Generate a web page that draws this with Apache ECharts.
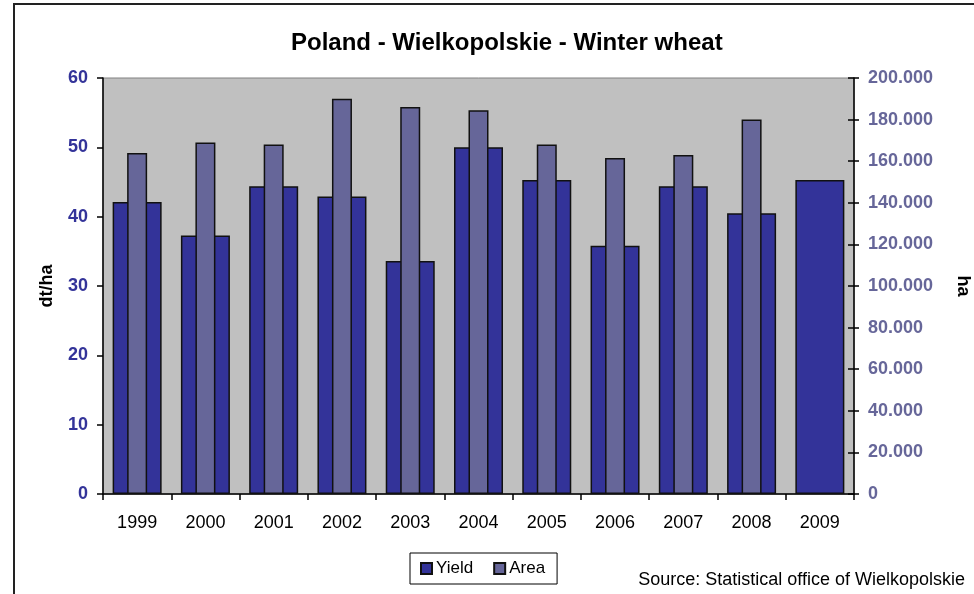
<!DOCTYPE html>
<html>
<head>
<meta charset="utf-8">
<script src="https://cdn.jsdelivr.net/npm/echarts@6/dist/echarts.min.js"></script>
<style>
  html, body { margin: 0; padding: 0; background: #fff; }
  #chart { width: 974px; height: 594px; }
</style>
</head>
<body>
<div id="chart"></div>
<script>
// Winter wheat in Wielkopolskie: yield (dt/ha) and cultivated area (ha) per year
const years = ['1999', '2000', '2001', '2002', '2003', '2004', '2005', '2006', '2007', '2008', '2009'];
const yieldValues = [42.1, 37.3, 44.4, 42.9, 33.6, 50.0, 45.3, 35.8, 44.4, 40.5, 45.3];
const areaValues = [164000, 169000, 168000, 190000, 186000, 184500, 168000, 161500, 163000, 180000, null];
const yieldTicks = { min: 0, max: 60, interval: 10 };
const areaTicks = { min: 0, max: 200000, interval: 20000 };

// 200000 -> "200.000"
function dotThousands(v) {
  return String(Math.round(v)).replace(/\B(?=(\d{3})+(?!\d))/g, '.');
}

const FONT = '"Liberation Sans", Arial, sans-serif';
const chart = echarts.init(document.getElementById('chart'), null, { renderer: 'canvas' });

chart.setOption({
  animation: false,
  backgroundColor: '#fff',
  textStyle: { fontFamily: FONT },
  title: {
    text: 'Poland - Wielkopolskie - Winter wheat',
    left: 286,
    top: 26,
    textStyle: { fontFamily: FONT, fontSize: 24, fontWeight: 'bold', color: '#000' }
  },
  graphic: [
    {
      type: 'rect',
      shape: { x: 14, y: 4, width: 980, height: 620 },
      style: { fill: 'none', stroke: '#222', lineWidth: 2 },
      silent: true
    },
    {
      type: 'text',
      right: 9,
      top: 571,
      style: { text: 'Source: Statistical office of Wielkopolskie', font: '18px ' + FONT, fill: '#000' }
    }
  ],
  legend: {
    left: 410,
    top: 553,
    padding: [7, 12, 7, 10],
    itemGap: 20,
    itemWidth: 11,
    itemHeight: 11,
    icon: 'rect',
    borderColor: '#000',
    borderWidth: 1,
    textStyle: { fontFamily: FONT, fontSize: 17, color: '#000', padding: [0, 0, 0, -1] },
    data: ['Yield', 'Area']
  },
  grid: {
    left: 103,
    right: 120,
    top: 78,
    bottom: 100,
    outerBoundsMode: 'none',
    containLabel: false,
    show: true,
    backgroundColor: '#c0c0c0',
    borderColor: '#808080',
    borderWidth: 1
  },
  xAxis: [
    {
      type: 'category',
      data: years,
      position: 'bottom',
      axisLine: { lineStyle: { color: '#000', width: 1.5 } },
      axisTick: { show: true, length: 6, lineStyle: { color: '#000', width: 1.5 } },
      axisLabel: { margin: 20, fontFamily: FONT, fontSize: 18, color: '#000' },
      splitLine: { show: false }
    },
    {
      type: 'category',
      data: years,
      position: 'bottom',
      show: false
    }
  ],
  yAxis: [
    {
      type: 'value',
      min: yieldTicks.min,
      max: yieldTicks.max,
      interval: yieldTicks.interval,
      position: 'left',
      name: 'dt/ha',
      nameLocation: 'middle',
      nameGap: 47,
      nameTextStyle: { fontFamily: FONT, fontSize: 18, fontWeight: 'bold', color: '#000' },
      axisLine: { show: true, lineStyle: { color: '#000', width: 1.5 } },
      axisTick: { show: true, length: 6, lineStyle: { color: '#000', width: 1.5 } },
      axisLabel: { margin: 15, fontFamily: FONT, fontSize: 18, fontWeight: 'bold', color: '#333399' },
      splitLine: { show: false }
    },
    {
      type: 'value',
      min: areaTicks.min,
      max: areaTicks.max,
      interval: areaTicks.interval,
      position: 'right',
      name: 'ha',
      nameLocation: 'middle',
      nameRotate: -90,
      nameGap: 100,
      nameTextStyle: { fontFamily: FONT, fontSize: 18, fontWeight: 'bold', color: '#000' },
      axisLine: { show: true, lineStyle: { color: '#000', width: 1.5 } },
      axisTick: { show: true, length: 5, lineStyle: { color: '#000', width: 1.5 } },
      axisLabel: { margin: 14, fontFamily: FONT, fontSize: 18, fontWeight: 'bold', color: '#666699', formatter: dotThousands },
      splitLine: { show: false }
    },
    {
      // inner half of the right-hand tick marks (they cross the axis line)
      type: 'value',
      min: areaTicks.min,
      max: areaTicks.max,
      interval: areaTicks.interval,
      position: 'right',
      axisLine: { show: false },
      axisTick: { show: true, inside: true, length: 6, lineStyle: { color: '#000', width: 1.5 } },
      axisLabel: { show: false },
      splitLine: { show: false }
    }
  ],
  series: [
    {
      name: 'Yield',
      type: 'bar',
      xAxisIndex: 0,
      yAxisIndex: 0,
      barWidth: 49,
      data: yieldValues,
      itemStyle: { color: '#333399', borderColor: '#111', borderWidth: 1.5 },
      z: 2
    },
    {
      name: 'Area',
      type: 'bar',
      xAxisIndex: 1,
      yAxisIndex: 1,
      barWidth: 20,
      data: areaValues,
      itemStyle: { color: '#666699', borderColor: '#111', borderWidth: 1.5 },
      z: 3
    }
  ]
});
</script>
</body>
</html>
